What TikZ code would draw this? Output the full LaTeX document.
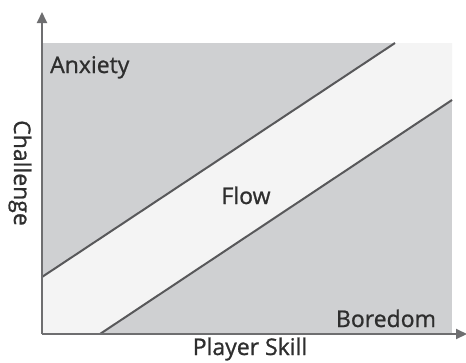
\documentclass[tikz,border=0pt]{standalone}
\usepackage{fontspec}
\setmainfont{Open Sans}
\newfontfamily\lblfont{Open Sans}[FakeBold=0.9]
\usetikzlibrary{arrows.meta}
\definecolor{zonegray}{HTML}{CFD0D2}
\definecolor{flowfill}{HTML}{F4F4F4}
\definecolor{axisgray}{HTML}{6E6E70}
\definecolor{linegray}{HTML}{58585A}
\definecolor{textgray}{HTML}{2E2E2E}
\tikzset{
  lbl/.style={font=\lblfont\fontsize{23}{26}\selectfont, text=textgray, inner sep=0pt},
  axisline/.style={draw=axisgray, line width=2pt, -{Triangle[width=10pt,length=11pt]}},
  bound/.style={draw=linegray, line width=2pt}
}
\begin{document}
\begin{tikzpicture}[x=1pt,y=-1pt]
\useasboundingbox (0,0) rectangle (466,362);
\fill[white] (0,0) rectangle (466,362);
% zones
\fill[zonegray] (42,43) rectangle (452,334);
\fill[flowfill] (42,277) -- (395,43) -- (452,43) -- (452,100) -- (100,334) -- (42,334) -- cycle;
% boundaries
\coordinate (ua) at (42,277);
\coordinate (ub) at (395,43);
\coordinate (la) at (100,334);
\coordinate (lb) at (452,100);
\draw[bound] (ua) -- (ub);
\draw[bound] (la) -- (lb);
% axes
\coordinate (o) at (42,334);
\coordinate (ytip) at (42,12);
\coordinate (xtip) at (467,334);
\draw[axisline] (o) -- (ytip);
\draw[axisline] (o) -- (xtip);
% labels
\node[lbl, anchor=base west] (anx) at (50,73) {Anxiety};
\node[lbl, anchor=base] (flow) at (246,204) {Flow};
\node[lbl, anchor=base] (bor) at (386,327) {Boredom};
\node[lbl, anchor=base] (skill) at (250,355) {Player Skill};
\node[lbl, rotate=-90, anchor=center] (chal) at (20,173) {Challenge};
\end{tikzpicture}
\end{document}
